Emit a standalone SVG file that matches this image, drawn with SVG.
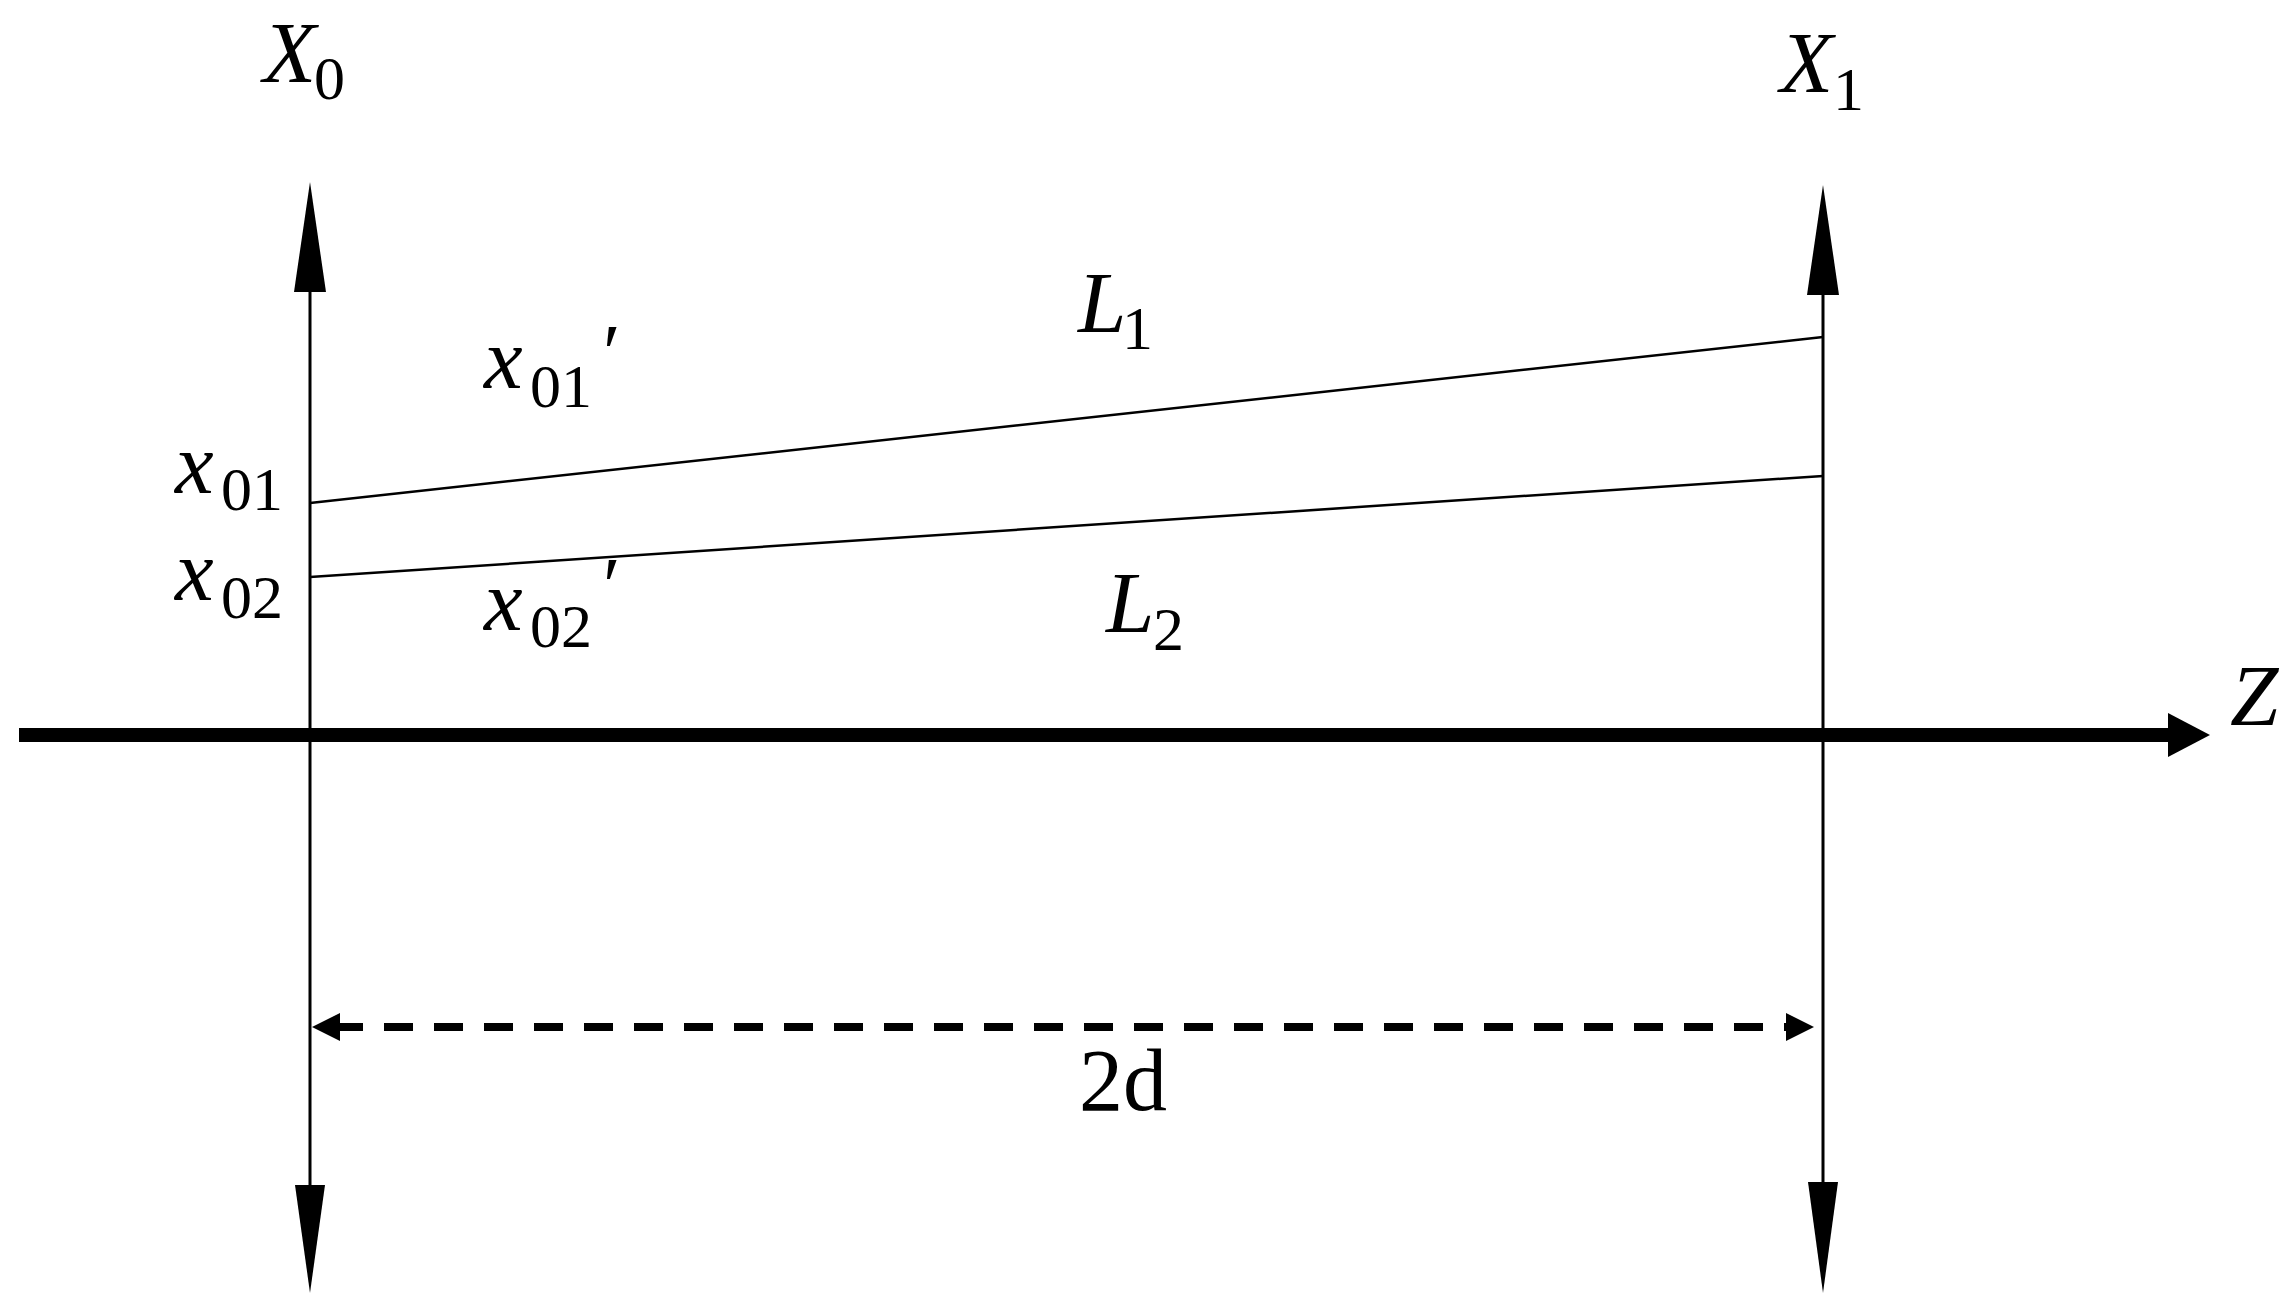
<svg xmlns="http://www.w3.org/2000/svg" width="2288" height="1308" viewBox="0 0 2288 1308">
<style>
.ax{stroke:#000;stroke-width:3;fill:none}
.ray{stroke:#000;stroke-width:2.5;fill:none}
.hd{fill:#000;stroke:none}
.m{font-family:"Liberation Serif","Times New Roman",serif;font-style:italic;font-size:87px;fill:#000}
.s{font-family:"Liberation Serif","Times New Roman",serif;font-style:normal;font-size:62px;fill:#000}
.p{font-family:"Liberation Serif","DejaVu Serif",serif;font-style:normal;font-size:80px;fill:#000}
.t{font-family:"Liberation Serif","Times New Roman",serif;font-size:88px;fill:#000}
</style>
<rect width="2288" height="1308" fill="#fff"/>
<g id="connectors">
  <g id="axis-x0">
    <line class="ax" x1="310" y1="290" x2="310" y2="1187"/>
    <polygon class="hd" points="310,182 326,292 294,292"/>
    <polygon class="hd" points="310,1293 325,1185 295,1185"/>
  </g>
  <g id="axis-x1">
    <line class="ax" x1="1823" y1="293" x2="1823" y2="1184"/>
    <polygon class="hd" points="1823,185 1839,295 1807,295"/>
    <polygon class="hd" points="1823,1293 1838,1182 1808,1182"/>
  </g>
  <g id="axis-z">
    <line x1="19" y1="735" x2="2170" y2="735" stroke="#000" stroke-width="14"/>
    <polygon class="hd" points="2168,713 2210,735 2168,757"/>
  </g>
  <g id="ray-l1">
    <line class="ray" x1="310" y1="503" x2="1823" y2="337"/>
  </g>
  <g id="ray-l2">
    <line class="ray" x1="310" y1="577" x2="1823" y2="476"/>
  </g>
  <g id="dim-2d">
    <line x1="339" y1="1027" x2="1788" y2="1027" stroke="#000" stroke-width="8" stroke-dasharray="29 21" stroke-dashoffset="5"/>
    <polygon class="hd" points="312,1027 340,1013 340,1041"/>
    <polygon class="hd" points="1814,1027 1786,1013 1786,1041"/>
  </g>
</g>
<g id="label-X0"><text class="m" x="263" y="82">X</text><text class="s" x="314" y="99">0</text></g>
<g id="label-X1"><text class="m" x="1780" y="92">X</text><text class="s" x="1833" y="110">1</text></g>
<g id="label-x01p"><text class="m" x="484" y="388">x</text><text class="s" x="530" y="407">01</text><text class="p" x="603" y="380">′</text></g>
<g id="label-x01"><text class="m" x="175" y="493">x</text><text class="s" x="221" y="510">01</text></g>
<g id="label-x02"><text class="m" x="175" y="600">x</text><text class="s" x="221" y="618">02</text></g>
<g id="label-x02p"><text class="m" x="484" y="630">x</text><text class="s" x="530" y="647">02</text><text class="p" x="603" y="613">′</text></g>
<g id="label-L1"><text class="m" x="1078" y="332">L</text><text class="s" x="1122" y="349">1</text></g>
<g id="label-L2"><text class="m" x="1106" y="632">L</text><text class="s" x="1153" y="650">2</text></g>
<g id="label-Z"><text class="m" x="2230" y="725">Z</text></g>
<g id="label-2d"><text class="t" x="1123" y="1110" text-anchor="middle">2d</text></g>
</svg>
